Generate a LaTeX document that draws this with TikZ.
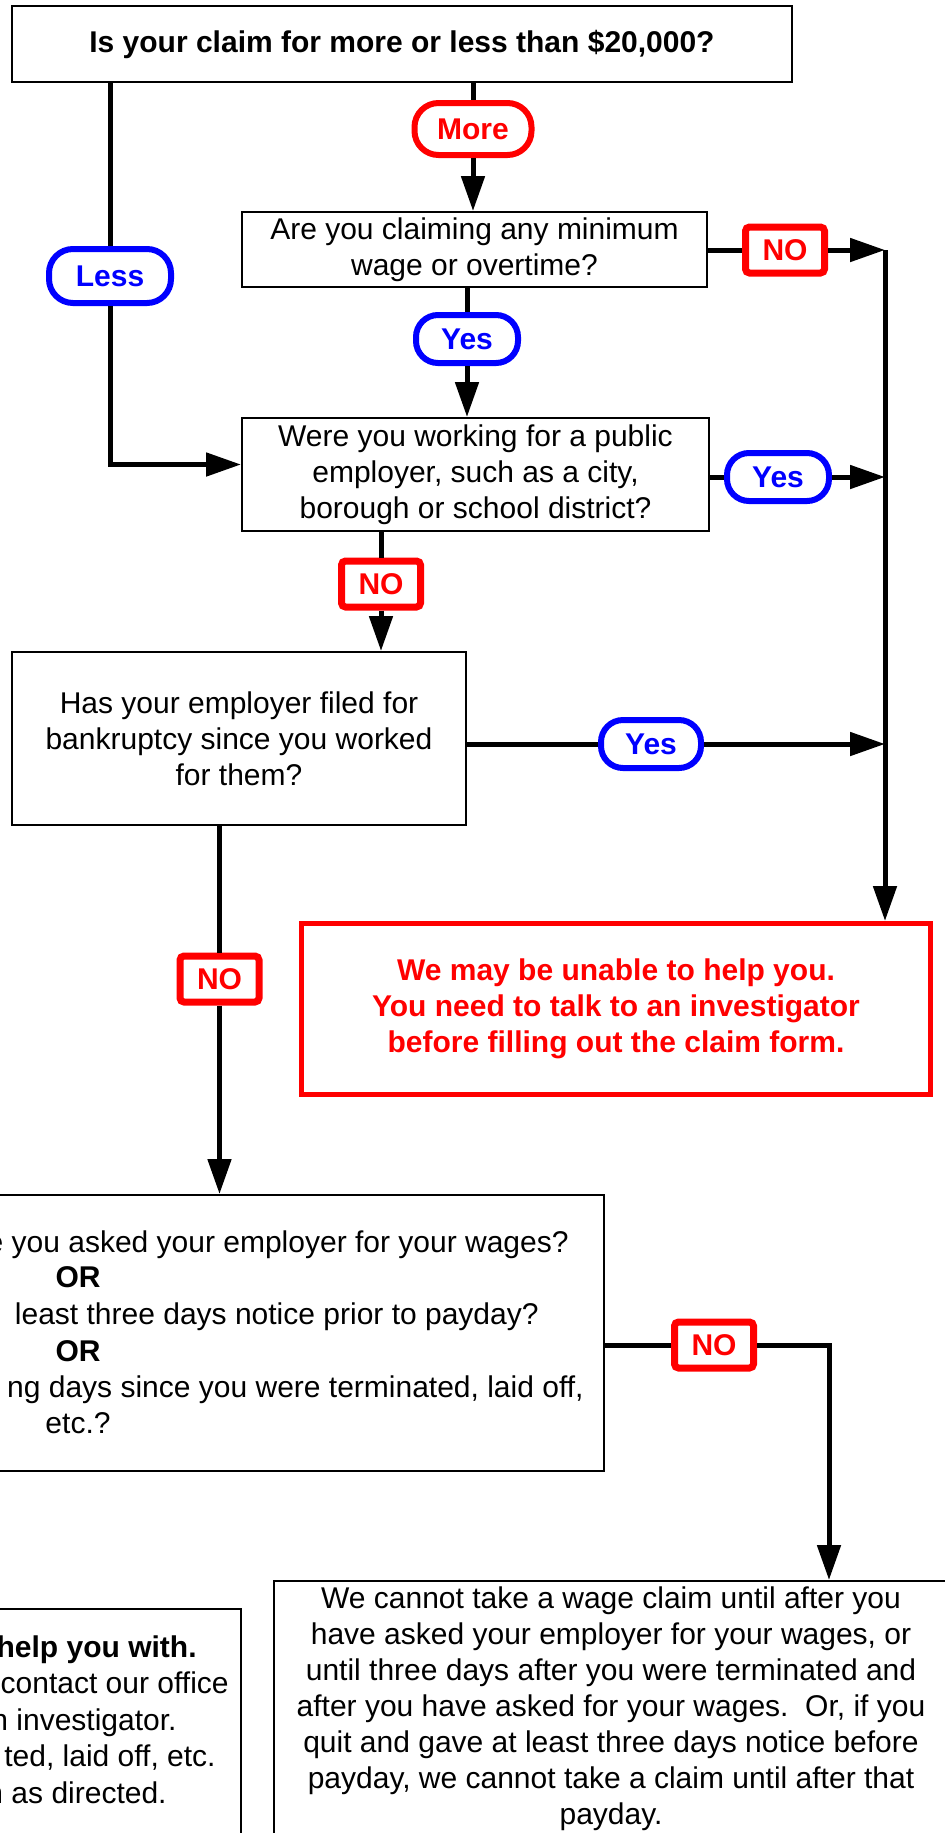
\documentclass[tikz,border=0pt]{standalone}
\usepackage{fontspec}
\setmainfont{Liberation Sans}
\usetikzlibrary{positioning,arrows.meta}

\tikzset{
  txt/.style={font=\fontsize{15}{18}\selectfont, inner sep=0pt},
  boldtxt/.style={font=\bfseries\fontsize{15}{18}\selectfont, inner sep=0pt},
  box/.style={draw, line width=1pt, fill=white, align=center, txt},
  stopbox/.style={draw=red, line width=2.5pt, text=red, align=center, boldtxt},
  pill/.style={draw, line width=3pt, rounded corners=12pt, fill=white, boldtxt},
  yespill/.style={pill, draw=blue, text=blue, rounded corners=11pt, minimum width=51pt, minimum height=24pt},
  nolabel/.style={draw=red, text=red, line width=3.5pt, rounded corners=2pt, fill=white, boldtxt, minimum width=39.5pt, minimum height=23pt},
  conn/.style={line width=2.5pt},
  flow/.style={conn, -{Triangle[length=17.5pt, width=11.5pt]}},
}

\begin{document}
\begin{tikzpicture}[x=0.5pt, y=-0.5pt]
    \useasboundingbox (0,0) rectangle (945,1833);
    \clip (0,0) rectangle (945,1833);

    % First question
    \node[box, boldtxt, minimum width=390pt, minimum height=38pt] (claim) at (402,44) {Is your claim for more or less than \$20,000?};
    \node[pill, draw=red, text=red, minimum width=58.5pt, minimum height=26pt] (more) at (473,129) {More};
    \node[pill, draw=blue, text=blue, minimum width=61pt, minimum height=27pt] (less) at (110,276) {Less};

    % Minimum wage or overtime
    \node[box, minimum width=232.5pt, minimum height=37.5pt] (wage) at (474.5,249.5) {Are you claiming any minimum\\wage or overtime?};
    \node[nolabel] (nowage) at (785,250) {NO};
    \node[yespill] (yeswage) at (467,339) {Yes};

    % Public employer
    \node[box, minimum width=233.5pt, minimum height=56.5pt] (public) at (475.5,474.5) {Were you working for a public\\employer, such as a city,\\borough or school district?};
    \node[yespill] (yespublic) at (778,477) {Yes};
    \node[nolabel] (nopublic) at (381,584) {NO};

    % Bankruptcy
    \node[box, minimum width=227pt, minimum height=86.5pt] (bankrupt) at (239,738.5) {Has your employer filed for\\bankruptcy since you worked\\for them?};
    \node[yespill, minimum width=50pt] (yesbankrupt) at (651,744) {Yes};
    \node[nolabel] (nobankrupt) at (219.5,979) {NO};

    % Talk to an investigator first
    \node[stopbox, minimum width=314.5pt, minimum height=85.5pt] (unable) at (616,1009) {We may be unable to help you.\\You need to talk to an investigator\\before filling out the claim form.};

    % Asked for wages (cut off on the left)
    \node[box, minimum width=526pt, minimum height=138pt] (asked) at (78,1333) {};
    \node[txt, anchor=base east] (askedA) at (569,1252) {e you asked your employer for your wages?};
    \node[boldtxt, anchor=base] (askedB) at (78,1287) {OR};
    \node[txt, anchor=base east] (askedC) at (539,1324) {least three days notice prior to payday?};
    \node[boldtxt, anchor=base] (askedD) at (78,1361) {OR};
    \node[txt, anchor=base east] (askedE) at (584,1397) {ng days since you were terminated, laid off,};
    \node[txt, anchor=base] (askedF) at (78,1433) {etc.?};
    \node[nolabel] (noasked) at (714,1345) {NO};
    \coordinate (bend) at (829,1345);

    % Not yet
    \node[box, minimum width=336.5pt, minimum height=150pt, anchor=north] (wait) at (610.5,1580) {};
    \node[txt, align=center, anchor=north] (waittext) at (611,1586) {We cannot take a wage claim until after you\\have asked your employer for your wages, or\\until three days after you were terminated and\\after you have asked for your wages.\ \ Or, if you\\quit and gave at least three days notice before\\payday, we cannot take a claim until after that\\payday.};

    % Office box (cut off on the left)
    \node[box, minimum width=300pt, minimum height=150pt, anchor=north east] (office) at (242,1608) {};
    \node[boldtxt, anchor=base east] (officeA) at (197,1657) {help you with.};
    \node[txt, anchor=base east] (officeB) at (229,1693.5) {contact our office};
    \node[txt, anchor=base east] (officeC) at (177,1730) {an investigator.};
    \node[txt, anchor=base east] (officeD) at (216,1766.5) {ted, laid off, etc.};
    \node[txt, anchor=base east] (officeE) at (167,1803) {n as directed.};

    % Right rail
    \coordinate (rail) at (885,250);
    \draw[flow] (rail) -- (rail |- unable.north);

    % Connectors
    \draw[conn] (claim.south -| more) -- (more.north);
    \draw[flow] (more.south) -- (more |- wage.north);
    \draw[conn] (claim.south -| less) -- (less.north);
    \draw[flow] (less.south) |- ([yshift=5pt]public.west);

    \draw[conn] (wage.east |- nowage) -- (nowage.west);
    \draw[flow] (nowage.east) -- (nowage -| rail);
    \draw[conn] (wage.south -| yeswage) -- (yeswage.north);
    \draw[flow] (yeswage.south) -- (yeswage |- public.north);

    \draw[conn] (public.east |- yespublic) -- (yespublic.west);
    \draw[flow] (yespublic.east) -- (yespublic -| rail);
    \draw[conn] (public.south -| nopublic) -- (nopublic.north);
    \draw[flow] (nopublic.south) -- (nopublic |- bankrupt.north);

    \draw[conn] (bankrupt.east |- yesbankrupt) -- (yesbankrupt.west);
    \draw[flow] (yesbankrupt.east) -- (yesbankrupt -| rail);
    \draw[conn] (bankrupt.south -| nobankrupt) -- (nobankrupt.north);
    \draw[flow] (nobankrupt.south) -- (nobankrupt |- asked.north);

    \draw[conn] (asked.east |- noasked) -- (noasked.west);
    \draw[flow] (noasked.east) -- (bend) -- (bend |- wait.north);
\end{tikzpicture}
\end{document}
